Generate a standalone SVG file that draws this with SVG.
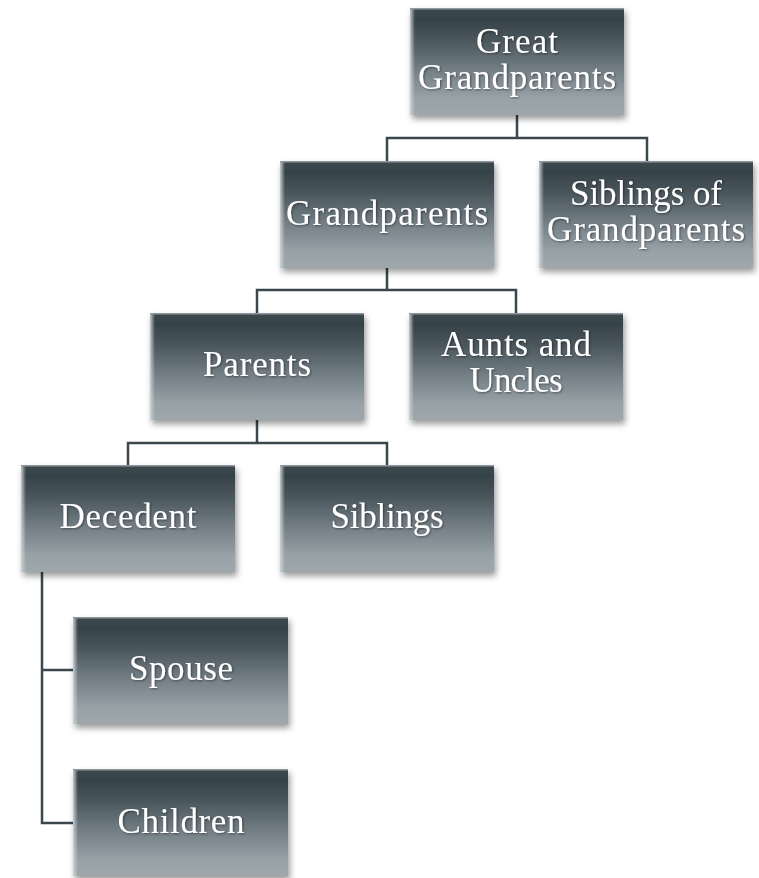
<svg xmlns="http://www.w3.org/2000/svg" width="759" height="878" viewBox="0 0 759 878">
<defs>
<linearGradient id="fill" x1="0" y1="0" x2="0" y2="1">
<stop offset="0" stop-color="#3c494f"/>
<stop offset="0.1" stop-color="#354248"/>
<stop offset="0.3" stop-color="#4a565c"/>
<stop offset="0.6" stop-color="#768288"/>
<stop offset="0.85" stop-color="#98a2a7"/>
<stop offset="1" stop-color="#9da7ac"/>
</linearGradient>
<linearGradient id="edge" x1="0" y1="0" x2="1" y2="0">
<stop offset="0" stop-color="#d2d8db" stop-opacity="0.9"/>
<stop offset="1" stop-color="#d2d8db" stop-opacity="0"/>
</linearGradient>
<filter id="shadow" x="-10%" y="-10%" width="125%" height="130%">
<feDropShadow dx="2" dy="4" stdDeviation="3" flood-color="#000" flood-opacity="0.4"/>
</filter>
<filter id="tshadow" x="-10%" y="-20%" width="120%" height="150%">
<feDropShadow dx="1" dy="1" stdDeviation="0.8" flood-color="#000" flood-opacity="0.45"/>
</filter>
</defs>
<style>
.box{fill:url(#fill);filter:url(#shadow)}
.edge{fill:url(#edge)}
.top{fill:#8e989d}
.lbl{font-family:"Liberation Serif","Times New Roman",serif;font-size:35px;fill:#ffffff;text-anchor:middle;filter:url(#tshadow)}
.conn{fill:none;stroke:#3a474d;stroke-width:2.5}
</style>
<g id="connectors">
<path class="conn" d="M517,115 V138 M387,161 V138 H647 V161"/>
<path class="conn" d="M387,268 V290 M257,313 V290 H516 V313"/>
<path class="conn" d="M257,420 V443 M128,465 V443 H387 V465"/>
<path class="conn" d="M42,572 V823 H73 M42,670 H73"/>
</g>
<g id="great-grandparents">
<rect class="box" x="410" y="8" width="214" height="107"/>
<rect class="edge" x="410" y="8" width="5" height="107"/>
<rect class="top" x="410" y="8" width="214" height="1.5"/>
<text class="lbl" x="517" y="53" textLength="82" lengthAdjust="spacing">Great</text>
<text class="lbl" x="517" y="89" textLength="198" lengthAdjust="spacing">Grandparents</text>
</g>
<g id="grandparents">
<rect class="box" x="280" y="161" width="214" height="107"/>
<rect class="edge" x="280" y="161" width="5" height="107"/>
<rect class="top" x="280" y="161" width="214" height="1.5"/>
<text class="lbl" x="387" y="225" textLength="202" lengthAdjust="spacing">Grandparents</text>
</g>
<g id="siblings-of-grandparents">
<rect class="box" x="539" y="161" width="214" height="107"/>
<rect class="edge" x="539" y="161" width="5" height="107"/>
<rect class="top" x="539" y="161" width="214" height="1.5"/>
<text class="lbl" x="646" y="205" textLength="152" lengthAdjust="spacing">Siblings of</text>
<text class="lbl" x="646" y="241" textLength="198" lengthAdjust="spacing">Grandparents</text>
</g>
<g id="parents">
<rect class="box" x="150" y="313" width="214" height="107"/>
<rect class="edge" x="150" y="313" width="5" height="107"/>
<rect class="top" x="150" y="313" width="214" height="1.5"/>
<text class="lbl" x="257" y="376" textLength="108" lengthAdjust="spacing">Parents</text>
</g>
<g id="aunts-and-uncles">
<rect class="box" x="409" y="313" width="214" height="107"/>
<rect class="edge" x="409" y="313" width="5" height="107"/>
<rect class="top" x="409" y="313" width="214" height="1.5"/>
<text class="lbl" x="516" y="356" textLength="150" lengthAdjust="spacing">Aunts and</text>
<text class="lbl" x="516" y="392" textLength="93" lengthAdjust="spacing">Uncles</text>
</g>
<g id="decedent">
<rect class="box" x="21" y="465" width="214" height="107"/>
<rect class="edge" x="21" y="465" width="5" height="107"/>
<rect class="top" x="21" y="465" width="214" height="1.5"/>
<text class="lbl" x="128" y="528" textLength="137" lengthAdjust="spacing">Decedent</text>
</g>
<g id="siblings">
<rect class="box" x="280" y="465" width="214" height="107"/>
<rect class="edge" x="280" y="465" width="5" height="107"/>
<rect class="top" x="280" y="465" width="214" height="1.5"/>
<text class="lbl" x="387" y="528" textLength="113" lengthAdjust="spacing">Siblings</text>
</g>
<g id="spouse">
<rect class="box" x="73" y="617" width="215" height="107"/>
<rect class="edge" x="73" y="617" width="5" height="107"/>
<rect class="top" x="73" y="617" width="215" height="1.5"/>
<text class="lbl" x="181" y="680" textLength="104" lengthAdjust="spacing">Spouse</text>
</g>
<g id="children">
<rect class="box" x="73" y="769" width="215" height="107"/>
<rect class="edge" x="73" y="769" width="5" height="107"/>
<rect class="top" x="73" y="769" width="215" height="1.5"/>
<text class="lbl" x="181" y="833" textLength="127" lengthAdjust="spacing">Children</text>
</g>
</svg>
